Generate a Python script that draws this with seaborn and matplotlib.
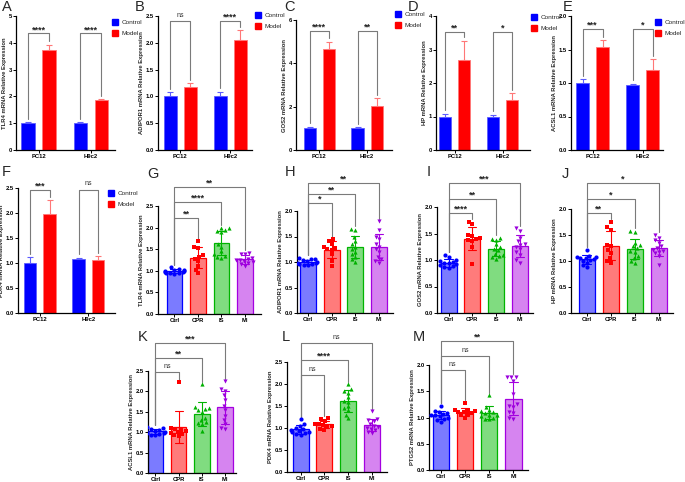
import numpy as np
import pandas as pd
import seaborn as sns
import matplotlib.pyplot as plt
from matplotlib.patches import Patch
from matplotlib.ticker import FormatStrFormatter

W, H = 685, 482

# ---------------- data: PC12 / H9c2, Control vs Model (mean, error) ----------------
cells = ['PC12', 'H9c2']
cell_groups = ['Control', 'Model']

tlr4_ctrl, tlr4_ctrl_err = [1.0, 1.0], [0.05, 0.05]
tlr4_model, tlr4_model_err = [3.75, 1.85], [0.18, 0.05]
tlr4_stars = ['****', '****']

adipor1_ctrl, adipor1_ctrl_err = [1.0, 1.0], [0.08, 0.09]
adipor1_model, adipor1_model_err = [1.17, 2.05], [0.08, 0.18]
adipor1_stars = ['ns', '****']

gos2_ctrl, gos2_ctrl_err = [1.0, 1.0], [0.08, 0.05]
gos2_model, gos2_model_err = [4.65, 2.05], [0.35, 0.33]
gos2_stars = ['****', '**']

hp_ctrl, hp_ctrl_err = [1.0, 1.0], [0.08, 0.05]
hp_model, hp_model_err = [2.68, 1.48], [0.58, 0.22]
hp_stars = ['**', '*']

acsl1_ctrl, acsl1_ctrl_err = [1.0, 0.97], [0.06, 0.02]
acsl1_model, acsl1_model_err = [1.54, 1.2], [0.1, 0.16]
acsl1_stars = ['***', '*']

pdk4_ctrl, pdk4_ctrl_err = [1.0, 1.09], [0.12, 0.02]
pdk4_model, pdk4_model_err = [1.98, 1.06], [0.28, 0.08]
pdk4_stars = ['***', 'ns']

# ---------------- data: Ctrl / CPR / IS / MI individual values ----------------
groups = ['Ctrl', 'CPR', 'IS', 'MI']

g_ctrl = [1.08, 1.05, 1.03, 1.01, 1.0, 0.99, 0.98, 0.97, 0.96, 0.95, 0.94, 0.93]
g_cpr = [1.69, 1.55, 1.52, 1.36, 1.32, 1.28, 1.22, 1.12, 1.03, 0.95]
g_is = [2.0, 1.98, 1.95, 1.93, 1.9, 1.62, 1.55, 1.45, 1.38, 1.35, 1.32, 1.3]
g_mi = [1.42, 1.4, 1.38, 1.3, 1.28, 1.25, 1.25, 1.22, 1.2, 1.18, 1.15, 1.12]
g_sig = [(1, 2.22, '**'), (2, 2.59, '****'), (3, 2.94, '**')]

h_ctrl = [1.08, 1.06, 1.05, 1.03, 1.02, 1.0, 0.99, 0.98, 0.97, 0.96, 0.95, 0.94]
h_cpr = [1.45, 1.42, 1.35, 1.3, 1.28, 1.26, 1.24, 1.15, 1.02, 0.93]
h_is = [1.65, 1.62, 1.5, 1.42, 1.35, 1.3, 1.25, 1.2, 1.15, 1.1, 1.05, 1.0]
h_mi = [1.8, 1.62, 1.5, 1.45, 1.35, 1.3, 1.25, 1.2, 1.1, 1.05, 1.02, 0.98]
h_sig = [(1, 2.15, '*'), (2, 2.34, '**'), (3, 2.54, '**')]

i_ctrl = [1.1, 1.05, 1.0, 0.98, 0.96, 0.95, 0.94, 0.92, 0.9, 0.88, 0.87, 0.85]
i_cpr = [1.72, 1.68, 1.47, 1.45, 1.42, 1.4, 1.38, 1.35, 1.25, 0.93]
i_is = [1.42, 1.4, 1.38, 1.3, 1.25, 1.2, 1.18, 1.12, 1.1, 1.05, 1.02, 1.08]
i_mi = [1.6, 1.55, 1.42, 1.35, 1.3, 1.28, 1.25, 1.2, 1.15, 1.1, 1.0, 0.95]
i_sig = [(1, 1.89, '****'), (2, 2.15, '**'), (3, 2.45, '***')]

j_ctrl = [1.22, 1.1, 1.08, 1.07, 1.06, 1.05, 1.04, 1.02, 1.0, 0.97, 0.92, 0.88]
j_cpr = [1.75, 1.65, 1.6, 1.3, 1.28, 1.22, 1.15, 1.05, 1.0, 0.97]
j_is = [1.58, 1.56, 1.35, 1.3, 1.28, 1.25, 1.2, 1.18, 1.1, 1.05, 1.0, 0.97]
j_mi = [1.5, 1.45, 1.4, 1.35, 1.28, 1.25, 1.22, 1.2, 1.18, 1.15, 1.1, 0.93]
j_sig = [(1, 1.92, '**'), (2, 2.2, '*'), (3, 2.5, '*')]

k_ctrl = [1.12, 1.1, 1.08, 1.06, 1.04, 1.02, 1.0, 0.99, 0.98, 0.96, 0.94, 0.92]
k_cpr = [2.22, 1.1, 1.08, 1.05, 1.02, 1.0, 0.98, 0.95, 0.92, 0.9]
k_is = [2.18, 1.62, 1.6, 1.58, 1.55, 1.5, 1.35, 1.3, 1.25, 1.22, 1.2, 1.02]
k_mi = [2.25, 2.05, 2.0, 1.9, 1.8, 1.65, 1.55, 1.4, 1.3, 1.2, 1.1, 1.08]
k_sig = [(1, 2.48, 'ns'), (2, 2.82, '**'), (3, 3.19, '***')]

l_ctrl = [1.2, 1.08, 1.05, 1.0, 0.98, 0.96, 0.94, 0.92, 0.9, 0.88, 0.86, 0.85]
l_cpr = [1.22, 1.2, 1.15, 1.1, 1.08, 1.06, 1.04, 1.02, 0.98, 0.95]
l_is = [2.0, 1.88, 1.85, 1.8, 1.7, 1.62, 1.6, 1.5, 1.45, 1.4, 1.3, 1.22]
l_mi = [1.38, 1.2, 1.18, 1.15, 1.1, 1.05, 1.02, 1.0, 0.98, 0.95, 0.9, 0.88]
l_sig = [(1, 2.2, 'ns'), (2, 2.55, '****'), (3, 2.93, 'ns')]

m_ctrl = [1.22, 1.12, 1.1, 1.08, 1.07, 1.05, 1.04, 1.02, 1.0, 0.98, 0.95, 0.92]
m_cpr = [1.28, 1.15, 1.14, 1.12, 1.1, 1.1, 1.08, 1.06, 1.04, 1.0]
m_is = [1.42, 1.2, 1.15, 1.12, 1.1, 1.08, 1.05, 1.05, 1.02, 1.0, 0.98, 0.97]
m_mi = [1.78, 1.77, 1.77, 1.7, 1.45, 1.25, 1.22, 1.2, 1.1, 1.08, 1.0, 0.98]
m_sig = [(1, 1.9, 'ns'), (2, 2.17, 'ns'), (3, 2.46, '**')]

# ---------------- style ----------------
BLUE, RED = '#0000ff', '#ff0000'
LBLUE, LRED = '#5c5cff', '#ff7777'
FILLS = ['#7b7bff', '#ff7b7b', '#80dc80', '#d684f0']
EDGES = ['#0000ff', '#ff0000', '#00b400', '#a400e0']
DOTS = ['#0000ff', '#ff0000', '#00b000', '#9a00dc']
MARKERS = ['o', 's', '^', 'v']
GREY = '#7a7a7a'
SMALL = 4.2

sns.set_style('ticks')
plt.rcParams['font.family'] = ['Liberation Sans', 'DejaVu Sans']
NARROW = ['Liberation Sans Narrow', 'Liberation Sans', 'DejaVu Sans']

fig = plt.figure(figsize=(W / 100, H / 100), dpi=100)


def add_ax(left, right, top, bottom):
    return fig.add_axes([left / W, 1 - bottom / H, (right - left) / W, (bottom - top) / H])


def style_axis(ax, ymax, step, ylabel, xlim, fmt):
    ax.set_ylim(0, ymax)
    ax.set_yticks(np.arange(0, ymax + step / 2, step))
    ax.yaxis.set_major_formatter(FormatStrFormatter(fmt))
    ax.set_xlim(xlim)
    ax.set_xlabel('')
    ax.set_ylabel(ylabel, fontsize=SMALL, fontweight='bold', labelpad=0.8)
    sns.despine(ax=ax)
    for s in ['left', 'bottom']:
        ax.spines[s].set_linewidth(0.9)
        ax.spines[s].set_color('black')
    ax.tick_params(labelsize=SMALL, length=2, width=0.7, pad=0.9, colors='black')
    for lab in ax.get_xticklabels() + ax.get_yticklabels():
        lab.set_fontweight('bold')


def star_text(ax, x, y, lab, ymax):
    if lab == 'ns':
        ax.text(x, y + ymax * 0.02, lab, ha='center', va='bottom', fontsize=5, color='#333333')
    else:
        ax.text(x, y - ymax * 0.005, lab, ha='center', va='bottom', fontsize=6.5,
                fontweight='bold', color='#222222')


def cell_panel(ax, ctrl, ctrl_err, model, model_err, stars, br_y, ymax, step, ylabel, xlim, fmt):
    df = pd.DataFrame({'cell': cells + cells,
                       'group': ['Control'] * 2 + ['Model'] * 2,
                       'value': ctrl + model})
    sns.barplot(data=df, x='cell', y='value', hue='group', hue_order=cell_groups,
                palette=[BLUE, RED], saturation=1, width=0.8, gap=0.35, errorbar=None,
                legend=False, ax=ax, linewidth=0.6)
    bars = list(ax.patches)
    for p, c in zip(bars, [LBLUE, LBLUE, LRED, LRED]):
        p.set_edgecolor(c)
    for p, v, e, c in zip(bars, ctrl + model, ctrl_err + model_err, [LBLUE] * 2 + [LRED] * 2):
        x = p.get_x() + p.get_width() / 2
        ax.errorbar([x], [v], yerr=[[0], [e]], color=c, capsize=2, elinewidth=0.8,
                    capthick=0.8, zorder=1)
    pad = ymax * 0.025
    for i in range(2):
        pc, pm = bars[i], bars[i + 2]
        xl = pc.get_x() + pc.get_width() / 2
        xr = pm.get_x() + pm.get_width() / 2
        yl = ctrl[i] + ctrl_err[i] + pad
        yr = model[i] + model_err[i] + pad
        ax.plot([xl, xl, xr, xr], [yl, br_y, br_y, yr], color=GREY, lw=0.8, clip_on=False)
        star_text(ax, (xl + xr) / 2, br_y, stars[i], ymax)
    style_axis(ax, ymax, step, ylabel, xlim, fmt)


def group_panel(ax, vals, sig, ymax, step, ylabel, xlim):
    df = pd.DataFrame({'group': np.repeat(groups, [len(v) for v in vals]),
                       'value': np.concatenate(vals)})
    sns.barplot(data=df, x='group', y='value', hue='group', order=groups, hue_order=groups,
                palette=FILLS, saturation=1, errorbar='sd', capsize=0.35, width=0.67,
                err_kws={'linewidth': 0.8}, legend=False, ax=ax, linewidth=0.9)
    bars = list(ax.patches)
    for p, c in zip(bars, EDGES):
        p.set_edgecolor(c)
    for ln, c in zip(ax.lines, EDGES):
        ln.set_color(c)
        ln.set_zorder(4)
    for g, m, c in zip(groups, MARKERS, DOTS):
        sns.swarmplot(data=df[df['group'] == g], x='group', y='value', order=groups,
                      color=c, marker=m, size=3, ax=ax, zorder=3, warn_thresh=1)
    centers = [p.get_x() + p.get_width() / 2 for p in bars]
    tops = [max(max(v), np.mean(v) + np.std(v, ddof=1)) for v in vals]
    pad = 0.05
    for j, yb, lab in sig:
        xl, xr = centers[0], centers[j]
        ax.plot([xl, xl, xr, xr], [tops[0] + pad, yb, yb, tops[j] + pad],
                color=GREY, lw=0.8, clip_on=False)
        star_text(ax, (xl + xr) / 2, yb, lab, ymax)
    style_axis(ax, ymax, step, ylabel, xlim, '%.1f')


def legend_at(ax, x, y):
    handles = [Patch(facecolor=BLUE, edgecolor=BLUE), Patch(facecolor=RED, edgecolor=RED)]
    ax.legend(handles, cell_groups, loc='upper left', bbox_to_anchor=(x / W, 1 - y / H),
              bbox_transform=fig.transFigure, frameon=False,
              prop={'family': NARROW, 'size': 4.6},
              handlelength=1.0, handleheight=1.0, handletextpad=0.45, labelspacing=0.8,
              borderpad=0, borderaxespad=0)


# ---------------- row 1 + F ----------------
ax = add_ax(16, 115, 16, 150)
cell_panel(ax, tlr4_ctrl, tlr4_ctrl_err, tlr4_model, tlr4_model_err, tlr4_stars, 4.35,
           5, 1, 'TLR4 mRNA Relative Expression', (-0.43, 1.46), '%d')
legend_at(ax, 112, 19)

ax = add_ax(158, 252, 16, 150)
cell_panel(ax, adipor1_ctrl, adipor1_ctrl_err, adipor1_model, adipor1_model_err, adipor1_stars,
           2.4, 2.5, 0.5, 'ADIPOR1 mRNA Relative Expression', (-0.44, 1.43), '%.1f')
legend_at(ax, 255, 12)

ax = add_ax(296, 392, 20, 150)
cell_panel(ax, gos2_ctrl, gos2_ctrl_err, gos2_model, gos2_model_err, gos2_stars, 5.5,
           6, 2, 'GOS2 mRNA Relative Expression', (-0.49, 1.52), '%d')
legend_at(ax, 395, 11)

ax = add_ax(436, 530, 16, 150)
cell_panel(ax, hp_ctrl, hp_ctrl_err, hp_model, hp_model_err, hp_stars, 3.53,
           4, 1, 'HP mRNA Relative Expression', (-0.385, 1.57), '%d')
legend_at(ax, 531, 14)

ax = add_ax(571, 663, 16, 150)
cell_panel(ax, acsl1_ctrl, acsl1_ctrl_err, acsl1_model, acsl1_model_err, acsl1_stars, 1.81,
           2.0, 0.5, 'ACSL1 mRNA Relative Expression', (-0.43, 1.40), '%.1f')
legend_at(ax, 655, 19)

ax = add_ax(18, 115, 188, 313)
cell_panel(ax, pdk4_ctrl, pdk4_ctrl_err, pdk4_model, pdk4_model_err, pdk4_stars, 2.47,
           2.5, 0.5, 'PDK4 mRNA Relative Expression', (-0.45, 1.55), '%.1f')
legend_at(ax, 108, 190)

# ---------------- rows 2 and 3 ----------------
ax = add_ax(158, 261, 206, 314)
group_panel(ax, [g_ctrl, g_cpr, g_is, g_mi], g_sig, 2.5, 0.5,
            'TLR4 mRNA Relative Expression', (-0.7, 3.68))

ax = add_ax(297, 393, 211, 313)
group_panel(ax, [h_ctrl, h_cpr, h_is, h_mi], h_sig, 2.0, 0.5,
            'ADIPOR1 mRNA Relative Expression', (-0.46, 3.59))

ax = add_ax(437, 533, 207, 313)
group_panel(ax, [i_ctrl, i_cpr, i_is, i_mi], i_sig, 2.0, 0.5,
            'GOS2 mRNA Relative Expression', (-0.49, 3.56))

ax = add_ax(571, 673, 209, 313)
group_panel(ax, [j_ctrl, j_cpr, j_is, j_mi], j_sig, 2.0, 0.5,
            'HP mRNA Relative Expression', (-0.65, 3.6))

ax = add_ax(148, 236, 371, 473)
group_panel(ax, [k_ctrl, k_cpr, k_is, k_mi], k_sig, 2.5, 0.5,
            'ACSL1 mRNA Relative Expression', (-0.32, 3.47))

ax = add_ax(287, 387, 362, 472)
group_panel(ax, [l_ctrl, l_cpr, l_is, l_mi], l_sig, 2.5, 0.5,
            'PDK4 mRNA Relative Expression', (-0.57, 3.63))

ax = add_ax(429, 528, 365, 470)
group_panel(ax, [m_ctrl, m_cpr, m_is, m_mi], m_sig, 2.0, 0.5,
            'PTGS2 mRNA Relative Expression', (-0.48, 3.6))

# ---------------- panel letters ----------------
letters = [('A', 2, 0), ('B', 135, 0), ('C', 284, 0), ('D', 408, 0), ('E', 563, 0),
           ('F', 2, 165), ('G', 147, 167), ('H', 285, 165), ('I', 427, 165), ('J', 562, 167),
           ('K', 138, 330), ('L', 282, 330), ('M', 413, 330)]
for t, x, y in letters:
    fig.text(x / W, 1 - y / H, t, fontsize=10.5, va='top', ha='left')

fig.savefig('out.png', dpi=100)
